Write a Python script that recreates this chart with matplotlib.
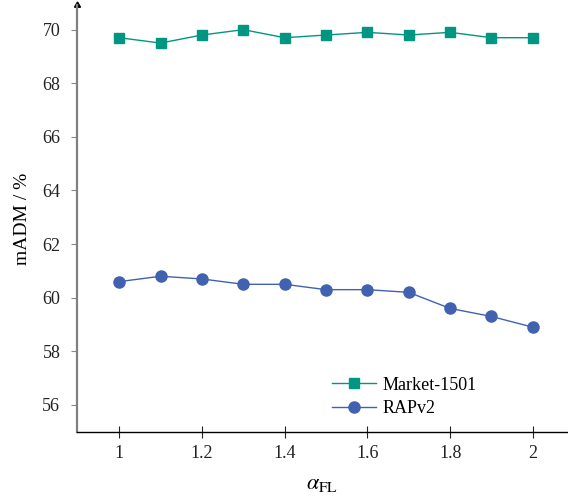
import matplotlib
matplotlib.use("Agg")
import matplotlib.pyplot as plt

plt.rcParams['font.family'] = ['Liberation Serif', 'DejaVu Serif']
plt.rcParams['mathtext.fontset'] = 'stix'

alpha = [1.0, 1.1, 1.2, 1.3, 1.4, 1.5, 1.6, 1.7, 1.8, 1.9, 2.0]
market = [69.7, 69.5, 69.8, 70.0, 69.7, 69.8, 69.9, 69.8, 69.9, 69.7, 69.7]
rapv2 = [60.6, 60.8, 60.7, 60.5, 60.5, 60.3, 60.3, 60.2, 59.6, 59.3, 58.9]
xticks = [1, 1.2, 1.4, 1.6, 1.8, 2]
xticklabels = ['1', '1.2', '1.4', '1.6', '1.8', '2']
yticks = [56, 58, 60, 62, 64, 66, 68, 70]

fig = plt.figure(figsize=(5.68, 5.0), dpi=100)
ax = fig.add_axes([77/568, 68/500, 491/568, 427/500])

teal = '#009682'
blue = '#4062b0'
ax.plot(alpha, market, color=teal, marker='s', markersize=7.5, linewidth=1.0, label='Market-1501')
ax.plot(alpha, rapv2, color=blue, marker='o', markersize=8, linewidth=1.0, label='RAPv2')

ax.set_xlim(0.898, 2.085)
ax.set_ylim(54.99, 70.92)
ax.set_xticks(xticks)
ax.set_xticklabels(xticklabels)
ax.set_yticks(yticks)
ax.tick_params(axis='both', labelsize=13, colors='#222222')
ax.tick_params(axis='y', direction='out', length=4, color='#888888', width=0.8, pad=8)
ax.tick_params(axis='x', direction='inout', length=8, color='#222222', width=0.8, pad=5)

for s in ['top', 'right']:
    ax.spines[s].set_visible(False)
ax.spines['left'].set_color('#808080')
ax.spines['left'].set_linewidth(1.6)
ax.spines['bottom'].set_color('black')
ax.spines['bottom'].set_linewidth(1.0)
ax.plot(0, 1, marker=(3, 0, 0), color='black', markersize=5, transform=ax.transAxes, clip_on=False)

ax.set_ylabel('mADM / %', fontsize=14, labelpad=8)
ax.set_xlabel(r'$\alpha_{\mathrm{FL}}$', fontsize=16, labelpad=10)

ax.legend(loc='lower left', bbox_to_anchor=(0.52, 0.035), frameon=False, fontsize=13,
          handlelength=2.4, handletextpad=0.4, labelspacing=0.35, borderaxespad=0, borderpad=0)

fig.savefig('out.png', dpi=100)
